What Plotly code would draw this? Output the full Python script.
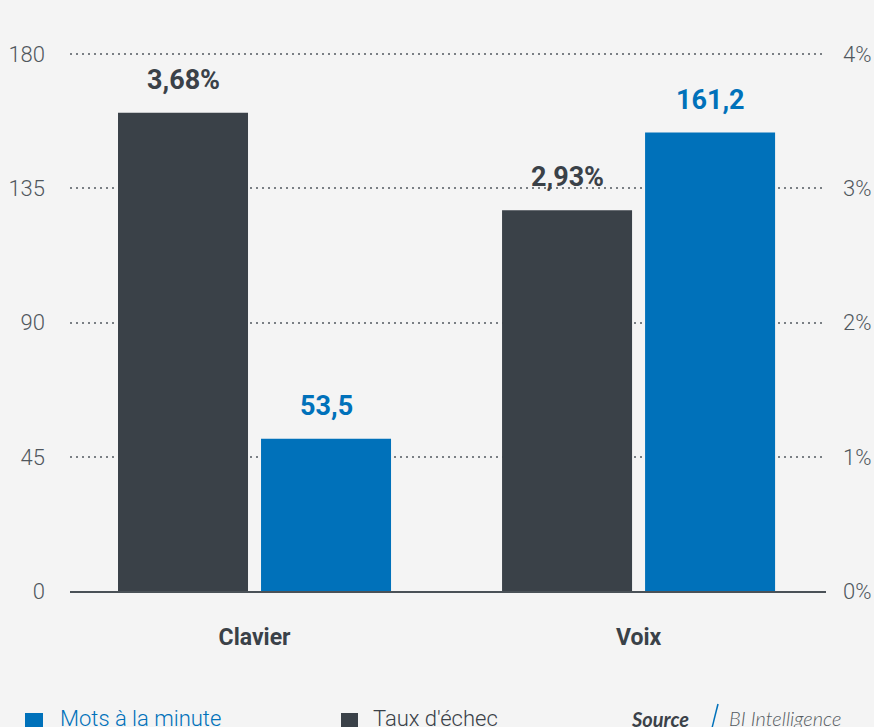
import plotly.graph_objects as go

# ---- data ----
categories = ["Clavier", "Voix"]
mots_minute = [53.5, 161.2]          # words per minute (blue)
taux_echec = [3.68, 2.93]            # failure rate in % (dark)
mots_labels = ["53,5", "161,2"]
taux_labels = ["3,68%", "2,93%"]
left_ticks = [0, 45, 90, 135, 180]
right_ticks = [0, 1, 2, 3, 4]
right_tick_text = ["0%", "1%", "2%", "3%", "4%"]

# ---- style ----
BG = "#f4f4f4"
DARK = "#3a4148"
BLUE = "#0071ba"
TICK = "#50575d"
BAR_W = 0.3385
OFF_DARK = -0.3555
OFF_BLUE = 0.0169

fig = go.Figure()
# empty carrier traces so that the visible tick axes are created
fig.add_trace(go.Scatter(x=categories, y=[None, None], yaxis="y", mode="markers",
                         showlegend=False, hoverinfo="skip"))
fig.add_trace(go.Scatter(x=categories, y=[None, None], yaxis="y2", mode="markers",
                         showlegend=False, hoverinfo="skip"))
fig.add_trace(go.Bar(x=categories, y=taux_echec, yaxis="y4", name="Taux d'échec",
                     marker=dict(color=DARK, line=dict(width=0)),
                     width=BAR_W, offset=OFF_DARK, showlegend=False, hoverinfo="skip"))
fig.add_trace(go.Bar(x=categories, y=mots_minute, yaxis="y3", name="Mots à la minute",
                     marker=dict(color=BLUE, line=dict(width=0)),
                     width=BAR_W, offset=OFF_BLUE, showlegend=False, hoverinfo="skip"))

annotations = []
for i, (v, t) in enumerate(zip(taux_echec, taux_labels)):
    annotations.append(dict(x=i + OFF_DARK + BAR_W / 2, y=v, xref="x", yref="y4", text=t,
                            showarrow=False, yanchor="bottom", yshift=15,
                            font=dict(family="Roboto", size=27, color=DARK, weight=700)))
for i, (v, t) in enumerate(zip(mots_minute, mots_labels)):
    annotations.append(dict(x=i + OFF_BLUE + BAR_W / 2, y=v, xref="x", yref="y3", text=t,
                            showarrow=False, yanchor="bottom", yshift=15,
                            font=dict(family="Roboto", size=27, color=BLUE, weight=700)))

# legend + source (bottom, partly cut as in the original)
def px_x(px):
    return (px - 70) / 756.0

def px_y(px):
    return -(px - 591) / 538.0

annotations += [
    dict(x=px_x(58), y=px_y(704), xref="paper", yref="paper", xanchor="left", yanchor="top",
         text="Mots à la minute", showarrow=False,
         font=dict(family="Roboto", size=22, color=BLUE, weight=300)),
    dict(x=px_x(371), y=px_y(704), xref="paper", yref="paper", xanchor="left", yanchor="top",
         text="Taux d'échec", showarrow=False,
         font=dict(family="Roboto", size=22, color=DARK, weight=300)),
    dict(x=px_x(629), y=px_y(705), xref="paper", yref="paper", xanchor="left", yanchor="top",
         text="Source", showarrow=False,
         font=dict(family="Lato", size=20, color=DARK, weight=700, style="italic")),
    dict(x=px_x(727), y=px_y(704), xref="paper", yref="paper", xanchor="left", yanchor="top",
         text="BI Intelligence", showarrow=False,
         font=dict(family="Lato", size=20, color="#555b61", weight=300, style="italic")),
]

shapes = [
    dict(type="rect", xref="paper", yref="paper", x0=px_x(25), x1=px_x(43), y0=px_y(731), y1=px_y(713),
         fillcolor=BLUE, line=dict(width=0)),
    dict(type="rect", xref="paper", yref="paper", x0=px_x(341), x1=px_x(358), y0=px_y(731), y1=px_y(713),
         fillcolor=DARK, line=dict(width=0)),
    dict(type="line", xref="paper", yref="paper", x0=px_x(718), x1=px_x(712), y0=px_y(704), y1=px_y(728),
         line=dict(color=BLUE, width=1.5)),
]

tick_font = dict(family="Roboto", size=22, color=TICK, weight=300)

fig.update_layout(
    width=874, height=727,
    paper_bgcolor=BG, plot_bgcolor=BG,
    margin=dict(l=70, r=48, t=53, b=136, pad=0),
    barmode="overlay",
    showlegend=False,
    xaxis=dict(type="category", range=[-0.4805, 1.488], showgrid=False, zeroline=False,
               showline=True, linecolor="#4a5157", linewidth=2, ticks="", automargin=False,
               ticklabelstandoff=24,
               tickfont=dict(family="Roboto", size=23, color=DARK, weight=700)),
    yaxis=dict(range=[0, 180.4], tickvals=left_ticks, showgrid=True, gridcolor="#7a7f84",
               gridwidth=1.6, griddash="1.6px,4.4px", zeroline=False, showline=False,
               ticks="", ticklabelstandoff=24, tickfont=tick_font, automargin=False),
    yaxis2=dict(range=[0, 4.009], tickvals=right_ticks, ticktext=right_tick_text, overlaying="y",
                side="right", showgrid=False, zeroline=False, showline=False, ticks="",
                ticklabelstandoff=16, tickfont=tick_font, automargin=False),
    yaxis3=dict(range=[0, 189.2], overlaying="y", visible=False, automargin=False),
    yaxis4=dict(range=[0, 4.14], overlaying="y", visible=False, automargin=False),
    annotations=annotations,
    shapes=shapes,
)

fig.write_html("out.html")
